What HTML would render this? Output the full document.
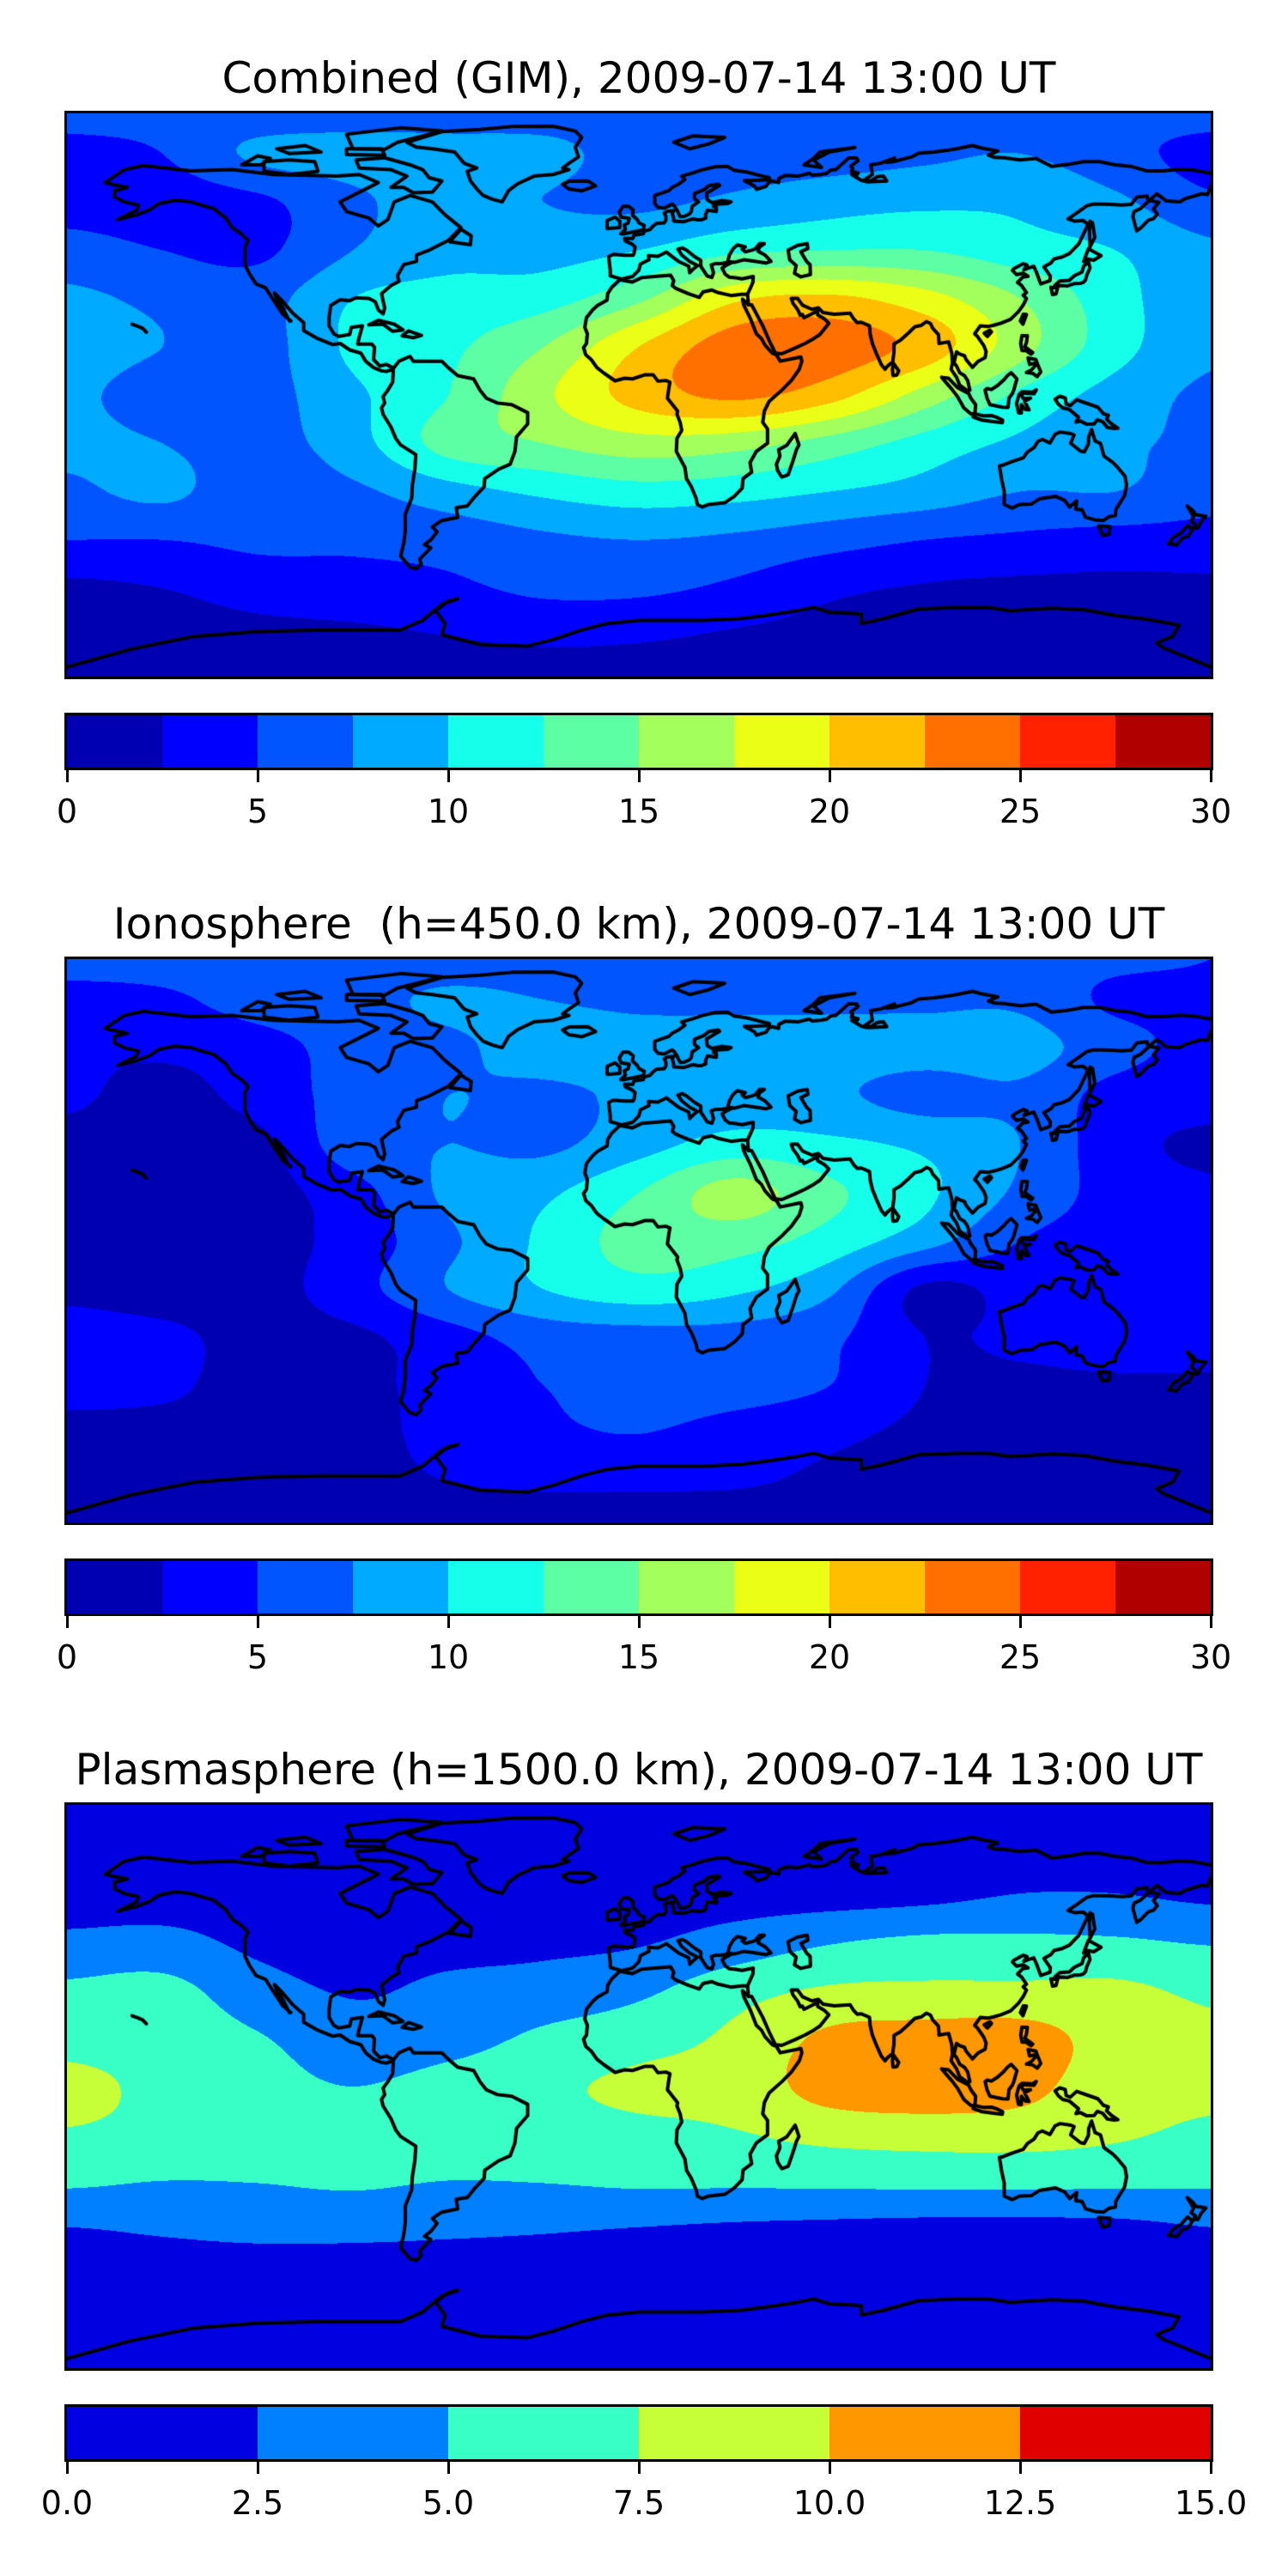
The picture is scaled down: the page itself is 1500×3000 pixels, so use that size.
<!DOCTYPE html>
<html><head><meta charset="utf-8"><title>GIM TEC maps</title>
<style>
html,body{margin:0;padding:0;background:#fff;}
body{width:1500px;height:3000px;position:relative;overflow:hidden;font-family:"DejaVu Sans","Liberation Sans",sans-serif;color:#000;}
.title{position:absolute;left:0;width:1488px;text-align:center;font-size:50px;line-height:50px;white-space:pre;}
.frame{position:absolute;left:75px;width:1332px;height:656px;border:3px solid #000;}
.frame canvas{display:block;}
.cbar{position:absolute;left:75px;width:1332px;height:61px;border:3px solid #000;display:flex;}
.cbar div{flex:1;height:100%;}
.tick{position:absolute;width:3px;height:14px;background:#000;}
.tlab{position:absolute;width:120px;text-align:center;font-size:38px;line-height:38px;}
</style></head><body>
<div id="root"></div>
<script>
// ---- data ----
const lonNodes=[-180,-150,-120,-90,-60,-30,0,30,60,90,120,150,180];
const latNodes=[87.5,75,60,45,30,15,0,-15,-30,-45,-60,-75,-87.5];
const gimGrid=[
[6,6,6,6.5,6.5,6.5,6.5,6.5,6,6,6,6,6],
[4,5,8,8.5,8.5,8.2,6.5,6.5,6.5,7,7.5,6,4],
[4,3.8,4.5,7,8.5,7.5,7,8,9,9.5,9.5,8,5.5],
[6,5,4.5,7.5,9,9,10,12,12.5,12.5,11,10,8],
[8,7,6.5,10,11,11.5,14.5,19.5,20.5,18.5,15,11,8],
[8.5,7.5,6.5,10.5,12,15,20,23.8,23.8,21.5,16,11,8],
[8,6.5,6.5,9.5,12.5,17,21,23,21,16.5,12,9,7],
[8,7.5,6.5,9,13.5,15,16.5,16,14,11.5,9.5,8,7],
[7,8,6,7,9,10.5,11.5,11,10,9,7.5,7.5,6],
[5,5,5.5,5.5,6,7,7.5,7,6,5,4.5,4,4],
[2,2.5,3.5,4,4.5,5.5,5.5,4.5,3,2.3,2,2,2],
[1.5,1.5,1.8,2,2.5,3,2.8,2.2,1.8,1.5,1.5,2,1.5],
[1.5,1.5,1.5,1.5,1.5,1.5,1.5,1.5,1.5,1.5,1.5,1.5,1.5]];
const ionoGrid=[
[6,6,6,6,6,6,6,6,6,6,6,5.5,5],
[4,4.5,6,6.5,8,7.5,7,7,7,7,7,4.5,4.5],
[3,3,4,6,7,8.5,8.5,8.5,8.5,8.5,8.5,6,4],
[3,1.5,3.5,6,7.5,7,8,8.5,8,6.5,7,4,3.5],
[1.5,1.2,1.8,6.5,7.5,7,9,11,10.5,9.5,7.5,3.5,2],
[1.5,1,1.5,4,8,9.5,12.5,16,13,10.5,7,4,3],
[1.5,1.2,1.5,3.5,7,10.5,13.5,13.5,11.5,8.5,5,4,4],
[2,1.5,1.5,4,7.5,10,11.5,10.5,8,2,3.5,3.5,3.5],
[3.5,3,1.8,2,4,6,6.5,6.5,5.5,2.5,3,4,4],
[3.5,3,1.5,1.8,3.5,5,6,6,5,2.5,2,2,2],
[1.5,1.5,1.5,1.5,3.5,4.5,5,4,3,2,1.5,1.5,1.5],
[1,1,1,1.5,2.5,3,3,2.8,2,1.5,1,1,1],
[1,1,1,1,1,1,1,1,1,1,1,1,1]];
const plasmaGrid=[
[1.5,1.5,1.5,1.5,1.5,1.5,1.5,1.5,1.5,1.5,1.5,1.5,1.5],
[1.5,1.5,1.5,1.5,1.5,1.5,1.5,1.5,1.5,1.5,1.5,1.5,1.5],
[1.5,1.5,1.5,1.5,1.5,1.5,1.5,1.5,1.5,1.8,2.5,2.5,2],
[3,3.2,2,1.5,1.8,2,2.3,3.5,4.8,5.5,5.5,5.3,4.8],
[5.5,5.8,3.5,2.3,3,3.5,4.5,6.5,7.8,8,8,8,7],
[6.8,6.5,5.2,3.5,4,5.5,6.5,8,10.5,11,11,9,8],
[8,7,6,5,6,7,8,8.5,11,11.5,10.8,8.5,8],
[7.3,6.8,6.5,6.5,6.5,6.5,6.8,7.3,8.2,8.5,8.5,7.8,7],
[5.3,4.9,5,5.3,4.9,5,5.3,5.3,5.4,5.5,5.5,5.4,5.3],
[2.3,2.7,3,3,2.8,2.6,2.3,2,1.8,1.6,1.6,1.7,2.3],
[1.2,1.2,1.2,1.2,1.2,1.2,1.2,1.2,1.2,1.2,1.2,1.2,1.2],
[1,1,1,1,1,1,1,1,1,1,1,1,1],
[1,1,1,1,1,1,1,1,1,1,1,1,1]];
const colors12=['#0000B2','#0000FF','#0055FF','#00AAFF','#15FFEA','#5CFFA3','#A3FF5C','#EAFF15','#FFBE00','#FF7000','#FF2100','#B00000'];
const colors6=['#0000E0','#0080FF','#38FFC6','#C6FF38','#FF9700','#E00000'];
const ticks30=['0','5','10','15','20','25','30'];
const ticks15=['0.0','2.5','5.0','7.5','10.0','12.5','15.0'];
const titles=['Combined (GIM), 2009-07-14 13:00 UT','Ionosphere  (h=450.0 km), 2009-07-14 13:00 UT','Plasmasphere (h=1500.0 km), 2009-07-14 13:00 UT'];

// ---- coastlines (lon,lat) ----
const coasts=[
[[-168,66],[-162,70],[-156,71.3],[-141,69.6],[-128,70],[-115,68.5],[-95,68],[-88,68.5],[-82,66],[-86,64],[-94,60],[-92,57],[-85,55],[-82,52.5],[-79,54.5],[-77,60],[-72,62],[-65,60],[-61,56],[-56,52],[-60,48],[-66,45],[-70,43.5],[-70,41.5],[-74,40.5],[-76,37],[-75.5,35.3],[-78,34],[-81,31.5],[-80,27],[-80.5,25.2],[-82,26.5],[-83,29],[-85,30],[-89,30.2],[-91,29.3],[-94,29.6],[-97,27.8],[-97.5,24],[-97.5,21.5],[-96,19],[-94.5,18.2],[-91,18.8],[-90.5,21],[-87,21.5],[-88,18],[-88.5,15.8],[-84,15.8],[-83.2,14.8],[-83.5,11],[-81.5,9],[-79.5,9.5],[-77.5,8.5],[-77.3,8],[-79.5,7.3],[-81,7.5],[-83.5,8.5],[-86,10.5],[-87.5,13],[-91,14],[-94,16],[-96.5,15.7],[-101,17.5],[-105.5,20],[-105.5,22.5],[-109,25.5],[-112.5,29.5],[-114.7,31.7],[-114,30],[-112,27],[-110,23],[-109.5,23],[-112,25],[-114,28],[-116,31],[-117.5,33.3],[-120.5,34.5],[-122.5,37.5],[-124,40.5],[-124,46],[-123,48],[-125,50],[-128,52],[-130,55],[-134,58],[-137,58.8],[-141,60],[-146,60.5],[-151,59.5],[-154,57.5],[-158,56],[-162,55],[-164,54.5],[-158,57.5],[-157.5,59],[-162,60],[-165,61.5],[-165,63.5],[-161,64.5],[-166,65.5],[-168,66]],
[[-77.3,8.2],[-75.5,10.5],[-72,12],[-71,10.5],[-68,10.5],[-64,10.5],[-62,10.5],[-60,8.5],[-57,6],[-52,5],[-50,1.5],[-48,-1],[-44.5,-2.5],[-40,-3],[-35,-5.5],[-35,-9],[-38.5,-13],[-39,-17.5],[-40.5,-21.5],[-44,-23],[-48.5,-26],[-48.7,-28.5],[-52,-32],[-54,-34.5],[-57.5,-35],[-57,-38],[-62,-39],[-65,-41],[-63.5,-42.5],[-65.5,-45],[-67.5,-46.5],[-65.5,-47.5],[-69,-51],[-68.5,-52.5],[-70,-54],[-72,-53.5],[-75,-50],[-74,-46],[-73.5,-42],[-73.5,-37],[-71.5,-32],[-71.3,-28],[-70.5,-23],[-70.2,-18.5],[-75,-15.5],[-76.5,-13.5],[-78,-10],[-80.5,-6],[-81,-4],[-80,-2.5],[-80.5,-0.5],[-79,1.5],[-77.5,4],[-77.3,7],[-77.3,8.2]],
[[-17,21],[-16.5,24],[-14.5,26.5],[-13,27.8],[-10,29.5],[-9.8,31.5],[-8.5,33.5],[-6,35.8],[-2,35.1],[1,36.5],[5,36.8],[10,37.2],[11,35.5],[10.5,34],[11.5,33.2],[15.5,31.5],[19,30.3],[20.2,32],[23,32.6],[25,31.8],[29,30.9],[32.3,31.3],[34.2,31.3],[34.5,28],[32.6,29.8],[33,28],[35,24],[37,19],[38.6,17.5],[39.7,15.5],[42,13],[43.3,12.5],[44.5,10.5],[51,11.8],[51.3,10.5],[50.5,8],[48,4.5],[45,1.5],[41,-2],[39.5,-5],[39,-8.5],[40.5,-10.5],[40.5,-15],[37,-17.5],[35,-21],[35.5,-24],[32.8,-26],[32.5,-29],[30,-31.5],[27,-33.5],[22,-34],[20,-34.8],[18.4,-34],[18,-32],[16.5,-28.5],[15,-26],[14.5,-22.5],[11.8,-17.5],[12,-13.5],[13.5,-11],[13,-8.5],[12,-6],[12.2,-5],[9,-1],[9.5,2.5],[9.8,4],[8.5,4.5],[6,4.3],[4.5,6.3],[2,6.3],[-2,5],[-4.5,5.2],[-7.5,4.4],[-11,6.8],[-13.2,8.5],[-15,11],[-16.7,12.5],[-17.4,14.7],[-16.5,16],[-16.2,19],[-17,21]],
[[49.2,-12],[50.4,-15.5],[49.6,-17],[48.5,-20.5],[47,-24.8],[45,-25.5],[43.7,-23.5],[43.3,-21.5],[44.4,-19],[44,-17],[46.5,-15.7],[49.2,-12]],
[[34.2,31.3],[35,33],[35.9,35],[36,36.8],[32.5,36.1],[30.5,36.4],[28.5,36.6],[27.2,37.5],[26.2,39.4],[27.5,40.3],[29,41],[28.5,41.3],[26,40.8],[24,40.8],[22.8,40.4],[23.5,38],[23,36.5],[21.5,37],[19.5,40],[19.5,41.8],[17.5,43],[15,45],[13.7,45.7],[12.3,45.3],[13.5,43.5],[16,41.5],[18.5,40.2],[17,39],[16,38],[15.7,40],[12.5,41.5],[10.5,43],[8.7,44.4],[6,43.1],[3,43.3],[3.2,42],[0.5,40.7],[0,38.8],[-2,36.8],[-5.3,36],[-6,36.2],[-9,37],[-9,38.7],[-9.5,43],[-8,43.7],[-4.5,43.4],[-1.8,43.4],[-1.5,44],[-1.2,46],[-2.3,47],[-4.2,47.8],[-4.5,48.6],[-1.9,48.6],[-1.5,49.7],[1.4,50.1],[1.7,50.9],[3.5,51.4],[4.5,52.5],[5.5,53.3],[8,53.5],[8.5,54.3],[8.5,55.5],[8,56.5],[9,57.1],[11,57.3],[10.5,56.4],[10.9,55.3],[11,54],[14,53.8],[17,54.7],[18.6,54.4],[19.6,54.4],[21.1,55],[21,56],[21.6,57.4],[24.4,57],[24.4,58.3],[23.5,58.5],[23.5,59.2],[28,59.5],[29,60],[26,60.4],[23,59.8],[21.5,60.7],[21.3,62.7],[25.4,65.1],[25,65.5],[22,65],[20.5,63.8],[17.5,62.6],[17.5,61],[18.8,60],[16.8,58.7],[16.5,57],[16,56.3],[14.3,55.5],[13,55.4],[12.6,56.2],[12,57.5],[11,58.9],[10.4,59.3],[8,58],[6,58.3],[5,59.5],[5,62],[9.5,63.5],[10.5,64.5],[12.5,65.5],[14.5,67],[13.5,68],[17,69],[20,70],[24,70.9],[28,71],[30,69.8],[33.8,69.3],[39,68],[41.1,67.5],[41,66.9],[35.5,66.6],[33.2,66.6],[34.8,65.8],[36.5,64.8],[37,63.9],[40,64.8],[41,66.2],[42,66.5],[44,66],[44,67.2],[46,68.2],[50,68],[53.7,68.9],[54.5,68.3],[57,68.5],[59,68.8],[60.5,69.9],[62,70],[66,73.6],[68.5,73.6],[69,72.8],[66.7,71.1],[67.3,70.4],[66.9,69.5],[69,69],[68.5,68.2],[67,68.5],[70,66.7],[72,66.2],[78,66.5],[77,68],[75,67.8],[73,66.5],[71,66.8],[73.5,68.5],[73,71.5],[76,72],[80.5,73.6],[78,72.3],[80,72.5],[86,74],[88,75.1],[93,75.5],[97,76],[100,76.5],[105,77.5],[108,76.7],[113,75.8],[110,74.5],[112,73.8],[115,73.7],[120,73],[125,73.5],[128,72],[130,71],[135,71.6],[140,72.5],[145,72.5],[150,71.5],[155,71],[160,69.6],[165,69.6],[170,70.1],[175,69.8],[180,68.9]],
[[34.5,28],[35.5,28],[39,21.5],[41,17],[43,13],[45,12.8],[49,14.5],[52.3,16],[55,17.5],[57,18.8],[59.8,22.3],[58.5,23.6],[56.3,24.9],[56.3,26],[55,25.5],[52,24],[51.5,25],[50.8,24.8],[50,26.5],[48.5,28.5],[48,30],[50,30],[51.5,27.9],[54.5,26.6],[56.5,27.1],[58,25.6],[61.5,25.1],[66.5,25.4],[67.5,23.8],[68.7,22.5],[70,22.6],[72.6,21.5],[72.8,19],[73.5,16],[74.8,12.8],[76.3,9.5],[77.5,8],[78.2,8.9],[79.9,10.3],[80.3,13.3],[80.3,15.9],[82.3,17],[84.8,19.2],[86.9,21.2],[88.8,21.6],[90.5,22.8],[91.8,22.2],[92.5,20.7],[94.3,18.8],[94.5,16],[97.5,16.5],[98.5,13],[98.7,10],[98.3,8],[100,5.5],[101,3],[103.5,1.3],[104.2,1.5],[103.5,4.5],[102.5,6],[101,6.9],[100,9],[99.2,10],[100,13.4],[101,12.7],[102.5,12.2],[103,11],[105,8.6],[106.7,10.4],[109,11.6],[109.3,13.5],[108.6,15.3],[106.5,18.3],[105.7,19],[107.5,21.5],[110,21.3],[111.5,21.6],[114,22.3],[117,23.5],[119.5,25.9],[121,28],[122,30],[121,31],[122,31.8],[120.5,34],[119.2,35],[120.8,36.6],[122.5,36.9],[121,37.8],[118.9,37.4],[117.6,38.7],[118,39.2],[121,40.8],[122.2,40.4],[121.2,38.9],[122.8,39.5],[124.3,40],[125.2,38],[126.5,34.5],[129.4,35.5],[129.5,37],[127.5,39.8],[129.7,41],[130.7,42.3],[133,42.8],[135.5,43.9],[138.5,47],[140.5,51.2],[141.4,53],[139.9,54.2],[137.2,54],[135.1,54.7],[137.5,56.3],[141,58.8],[143,59.3],[145.5,59.3],[148.5,59.2],[152,59],[155,59.2],[156.8,61.5],[160,61.8],[160.2,60.5],[163.7,59.9],[162,57.8],[163.2,56.2],[162,54.8],[160.4,54.3],[158,51.9],[156.7,51],[156,53.5],[155.5,55.5],[155.9,57],[158,58],[163,62.5],[166,60.3],[170.3,60],[172,61],[177,62.5],[179,62.3],[180,65]],
[[-5,50],[1.4,51.3],[1.7,52.7],[0,53.5],[-0.5,54.5],[-2,55.9],[-1.8,57.5],[-3.2,58.6],[-5,58.6],[-6.2,56.8],[-5.6,55.3],[-3,54.9],[-3.4,53.4],[-4.6,52.8],[-4.2,51.5],[-5.7,50.1],[-5,50]],
[[-6,52],[-6,54],[-7.5,55.3],[-10,54.2],[-10,51.7],[-6,52]],
[[28,41.5],[28.5,43.5],[29.7,45.5],[31,46.6],[33.5,46],[32.5,45.3],[33.5,44.5],[35.5,45],[36.5,45.3],[38,47],[39.5,47],[38,46],[37.5,44.7],[39.8,43.4],[41.6,41.5],[40,41],[36,41.6],[33,42],[30,41.2],[28,41.5]],
[[47,45],[50,46.5],[53,47],[53.2,45.5],[51,44.5],[52.8,41.5],[53.9,40.5],[54,37.4],[51,36.7],[49,37.8],[49.5,40.2],[47.5,42],[47,45]],
[[130.9,34],[132.5,35.4],[135.5,35.6],[137,37],[139.5,38.2],[140,40],[141.5,41.4],[142,39.5],[140.9,37],[140.6,35.7],[139.9,35],[139,34.7],[137,34.6],[135,33.9],[133,34],[131,33.9],[130.9,34]],
[[140,41.5],[141.5,45.4],[145.5,43.3],[143.2,41.9],[141,42.3],[140,41.5]],
[[129.7,33.5],[131.8,33.3],[131.3,31.4],[130.2,31.2],[129.7,33.5]],
[[109,1.5],[109.6,-1],[110.5,-3],[114.5,-3.8],[116.2,-3.9],[116.5,-1],[117.6,0.5],[118,1.5],[119,5],[117.2,6.9],[116,6],[115,4.8],[113,3],[111,1.7],[109.6,2],[109,1.5]],
[[95.3,5.5],[97.5,5.2],[100.3,2.3],[103.8,0.5],[104.5,-1],[106,-3],[105.8,-5.8],[104.5,-5.9],[102.3,-4],[100.3,-0.5],[98.6,1.7],[97.2,3.3],[95.3,5.5]],
[[105.2,-6.8],[106,-5.9],[108.5,-6.5],[111,-6.4],[112.6,-6.9],[114.5,-7.8],[114.4,-8.6],[111,-8.2],[108,-7.8],[105.4,-6.9],[105.2,-6.8]],
[[119.5,-5.5],[120.4,-5.6],[120.4,-3],[121.6,-4.5],[122.8,-4.6],[121.4,-1.9],[123.3,-1],[121,-1.1],[120.1,0.6],[124.4,0.4],[125.1,1.6],[124,0.9],[120.6,1],[119.7,0.2],[118.9,-2.6],[119.5,-5.5]],
[[131,-1.3],[132.5,-0.4],[134.2,-0.9],[134.5,-2.8],[135.8,-3.3],[137.8,-1.5],[141,-2.6],[144.5,-3.8],[146.2,-5.8],[147.8,-6.3],[147.2,-7.5],[148.8,-9],[150.8,-10.3],[149.6,-10.4],[147.5,-10.1],[146,-8.3],[144.3,-7.7],[143.3,-9],[141,-9.1],[139,-8.1],[137.6,-8.4],[138.4,-6.9],[135.5,-4.5],[133.4,-4],[132,-2.8],[131,-1.3]],
[[120.6,18.5],[122.3,18.4],[122,16.3],[121.5,15],[124,13.2],[123.4,12.7],[121.7,13.9],[120.6,13.8],[120.2,16],[120.6,18.5]],
[[122,7],[123.6,7.8],[125.4,9.8],[126.5,7.2],[125.4,5.7],[124,6.7],[122,7]],
[[122.5,11.5],[125,11],[125.3,10],[123,9.5],[122.5,11.5]],
[[120.1,23],[121,25.1],[122,25],[120.9,22],[120.1,23]],
[[108.7,19.2],[110.5,20.1],[111,19.6],[109.7,18.2],[108.7,19.2]],
[[79.8,8],[80.2,9.8],[81.8,7.5],[81.2,6.2],[80,6.1],[79.8,8]],
[[113.5,-22],[114.2,-26.3],[115,-30],[115,-34],[117.5,-35.1],[119.9,-34],[123.5,-33.9],[126,-32.3],[131.2,-31.5],[134,-32.7],[135.6,-34.8],[137.8,-32.9],[137.5,-35.5],[139.5,-35.7],[140.6,-38],[143.5,-38.8],[146.3,-39],[148,-37.8],[150,-37.4],[150.1,-35.7],[151.2,-33.9],[152.9,-31.2],[153.5,-28],[153,-25.2],[150.8,-22.6],[149.2,-21],[146.4,-19],[145.3,-15],[143.6,-14.3],[142.5,-10.7],[141.6,-13],[141.5,-15.2],[140.2,-17.7],[139,-17.4],[135.9,-15],[137,-12.4],[136,-12],[132.6,-11.5],[131,-12.2],[129.4,-14.9],[127,-13.8],[125.6,-14.4],[124.4,-16.3],[122.3,-17.7],[121,-19.5],[117.4,-20.7],[114.6,-21.8],[113.5,-22]],
[[144.7,-40.7],[148.3,-40.9],[148,-43.2],[146,-43.6],[144.7,-40.7]],
[[172.6,-34.5],[174.5,-36],[175.3,-37.2],[178.5,-37.7],[177,-39.3],[176,-41.3],[174.6,-41.3],[175.2,-40.2],[173.8,-39.2],[174.6,-37.8],[172.6,-34.5]],
[[172.7,-40.5],[174.3,-41.7],[173,-43.8],[171,-44.5],[169.3,-46.6],[166.7,-46.2],[168.5,-44],[170.6,-42.9],[172.7,-40.5]],
[[-73,78.5],[-68,80],[-62,81.8],[-50,82.5],[-40,83.4],[-27,83.5],[-20,82],[-18,80],[-20,77],[-19,74],[-22,72],[-24,70.5],[-22,70],[-27,68.5],[-33,68],[-38,65.7],[-41,63.5],[-43,60],[-46,60.8],[-49,62],[-51,64],[-53,66.5],[-54,69.5],[-51,70.5],[-55,72],[-58,75.5],[-65,76.5],[-70,77],[-73,78.5]],
[[-22,64],[-24,65.5],[-22,66.4],[-16,66.5],[-13.6,65],[-18,63.4],[-22,64]],
[[-80,73.7],[-72,71.5],[-68,70],[-66,67.5],[-62,66.5],[-65,63],[-71,62.8],[-74,64.5],[-78,64.5],[-73,68],[-78,70],[-88,70.5],[-89,73],[-80,73.7]],
[[-118,72.5],[-110,73],[-102,72.5],[-101,69.5],[-110,68.5],[-118,69.5],[-118,72.5]],
[[-125,71.5],[-120,74.3],[-116,73.5],[-119,71.5],[-125,71.5]],
[[-90,76.5],[-80,76.3],[-76,78.5],[-70,80],[-62,82],[-75,83],[-92,81],[-90,76.5]],
[[-92,74.7],[-80,74.5],[-81,76.5],[-92,76.5],[-92,74.7]],
[[-110,75],[-100,75.5],[-105,77.5],[-114,76.5],[-110,75]],
[[-59.5,47.6],[-53,46.7],[-52.8,49.5],[-56,51.5],[-59.5,47.6]],
[[-85,21.8],[-82,23.2],[-77,22],[-74.2,20.2],[-77.5,19.8],[-80.5,22],[-85,21.8]],
[[-74.5,18.4],[-72.5,19.9],[-68.4,18.5],[-71,17.8],[-74.5,18.4]],
[[11,78.5],[17,80.5],[27,80],[22,78],[16,76.5],[11,78.5]],
[[52,71.5],[55,73.5],[57,75.5],[65,76.5],[68,76.9],[60,75.5],[55,73],[57.5,70.7],[52,71.5]],
[[142,46],[143.5,49],[142.8,53.5],[142,54],[141.8,51],[142,46]],
[[-159.5,22],[-157.8,21.4],[-156.3,20.8],[-155,19.5]],
[[-180,-84.5],[-160,-79],[-150,-77],[-140,-75],[-120,-73.5],[-100,-73],[-90,-73],[-75,-73],[-68,-70],[-62,-65],[-57,-63.3],[-60,-64],[-64,-67],[-61,-71],[-62,-74.5],[-50,-77.5],[-35,-78],[-27,-76],[-18,-73],[-10,-71],[0,-70],[10,-70],[20,-70],[32,-69.5],[40,-68.5],[50,-67],[55,-66],[60,-67.5],[70,-68],[70,-71],[77,-69.5],[88,-66.5],[100,-66],[110,-66],[117,-67],[130,-66.2],[140,-66.7],[150,-68.5],[160,-69.7],[170,-71.5],[168,-75],[163,-77],[165,-78.5],[180,-84.5]]
];

// ---- layout ----
const W=1332,H=656,PANEL_DY=985;
const LON_MIN=-180,LON_MAX=180,LAT_TOP=87.5,LAT_BOT=-87.5;
function xScale(lon){return (lon-LON_MIN)/(LON_MAX-LON_MIN)*W;}
function yScale(lat){return (LAT_TOP-lat)/(LAT_TOP-LAT_BOT)*H;}
function hex2rgb(h){return [parseInt(h.slice(1,3),16),parseInt(h.slice(3,5),16),parseInt(h.slice(5,7),16)];}
function cr(p0,p1,p2,p3,t){return p1+0.5*t*(p2-p0+t*(2*p0-5*p1+4*p2-p3+t*(3*(p1-p2)+p3-p0)));}
function clampIdx(i,n){return i<0?0:(i>n-1?n-1:i);}

function renderField(ctx,grid,step,cols){
  const rgb=cols.map(hex2rgb);
  const img=ctx.createImageData(W,H);
  const nR=latNodes.length,nC=lonNodes.length;
  const colI=new Int32Array(W),colF=new Float32Array(W);
  for(let x=0;x<W;x++){
    const lon=LON_MIN+(x+0.5)/W*(LON_MAX-LON_MIN);
    let j=0;while(j<nC-2&&lon>lonNodes[j+1])j++;
    colI[x]=j;colF[x]=(lon-lonNodes[j])/(lonNodes[j+1]-lonNodes[j]);
  }
  const rowVals=new Float32Array(nC);
  for(let y=0;y<H;y++){
    const lat=LAT_TOP-(y+0.5)/H*(LAT_TOP-LAT_BOT);
    let i=0;while(i<nR-2&&lat<latNodes[i+1])i++;
    const f=(latNodes[i]-lat)/(latNodes[i]-latNodes[i+1]);
    for(let c=0;c<nC;c++){
      rowVals[c]=cr(grid[clampIdx(i-1,nR)][c],grid[i][c],grid[clampIdx(i+1,nR)][c],grid[clampIdx(i+2,nR)][c],f);
    }
    for(let x=0;x<W;x++){
      const j=colI[x];
      const v=cr(rowVals[clampIdx(j-1,nC)],rowVals[j],rowVals[clampIdx(j+1,nC)],rowVals[clampIdx(j+2,nC)],colF[x]);
      let k=Math.floor(v/step);if(k<0)k=0;if(k>cols.length-1)k=cols.length-1;
      const p=(y*W+x)*4;const c=rgb[k];
      img.data[p]=c[0];img.data[p+1]=c[1];img.data[p+2]=c[2];img.data[p+3]=255;
    }
  }
  ctx.putImageData(img,0,0);
}
function drawCoasts(ctx){
  ctx.strokeStyle='#000';ctx.lineWidth=4;ctx.lineJoin='round';ctx.lineCap='round';
  coasts.forEach(poly=>{
    ctx.beginPath();
    poly.forEach((p,i)=>{const X=xScale(p[0]),Y=yScale(p[1]);if(i)ctx.lineTo(X,Y);else ctx.moveTo(X,Y);});
    ctx.stroke();
  });
}

const root=document.getElementById('root');
const panels=[
 {grid:gimGrid,step:2.5,cols:colors12,ticks:ticks30,name:'combined'},
 {grid:ionoGrid,step:2.5,cols:colors12,ticks:ticks30,name:'ionosphere'},
 {grid:plasmaGrid,step:2.5,cols:colors6,ticks:ticks15,name:'plasmasphere'}
];
panels.forEach((P,pi)=>{
  const dy=pi*PANEL_DY;
  const t=document.createElement('div');
  t.className='title';t.style.top=(66+dy)+'px';t.textContent=titles[pi];
  
  
  root.appendChild(t);

  const fr=document.createElement('div');
  fr.className='frame';fr.style.top=(129+dy)+'px';
  
  
  const cv=document.createElement('canvas');cv.width=W;cv.height=H;
  
  
  fr.appendChild(cv);root.appendChild(fr);
  const ctx=cv.getContext('2d');
  renderField(ctx,P.grid,P.step,P.cols);
  drawCoasts(ctx);

  const cb=document.createElement('div');
  cb.className='cbar';cb.style.top=(830+dy)+'px';
  
  
  P.cols.forEach((c,ci)=>{
    const s=document.createElement('div');s.style.background=c;
    
    
    cb.appendChild(s);
  });
  root.appendChild(cb);
  const nT=P.ticks.length;
  P.ticks.forEach((lab,ti)=>{
    const x=78+ti/(nT-1)*W;
    const tk=document.createElement('div');tk.className='tick';
    tk.style.left=(x-1.5)+'px';tk.style.top=(897+dy)+'px';
    
    
    root.appendChild(tk);
    const tl=document.createElement('div');tl.className='tlab';
    tl.style.left=(x-60)+'px';tl.style.top=(926+dy)+'px';tl.textContent=lab;
    
    
    root.appendChild(tl);
  });
});
</script>
</body></html>
